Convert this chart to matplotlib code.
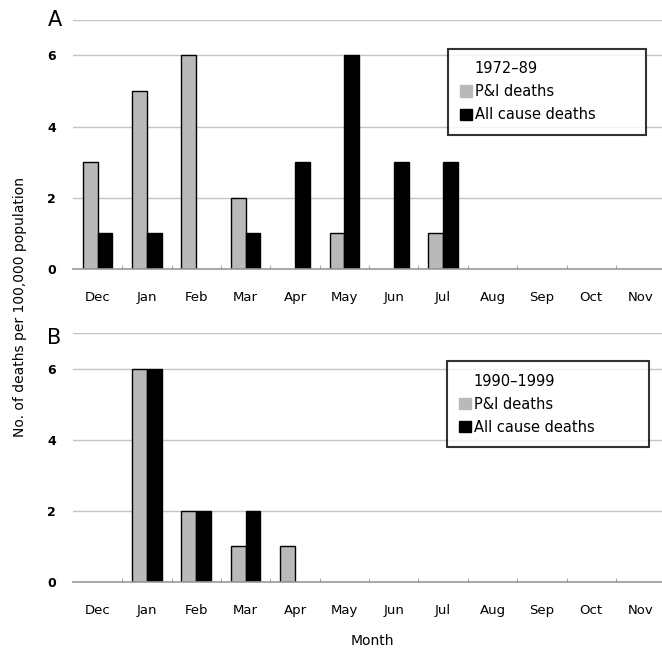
import numpy as np
import matplotlib
matplotlib.use("Agg")
import matplotlib.pyplot as plt
from matplotlib.patches import Patch

# months and values
months = ['Dec', 'Jan', 'Feb', 'Mar', 'Apr', 'May', 'Jun', 'Jul', 'Aug', 'Sep', 'Oct', 'Nov']
pi_a = [3, 5, 6, 2, 0, 1, 0, 1, 0, 0, 0, 0]
all_a = [1, 1, 0, 1, 3, 6, 3, 3, 0, 0, 0, 0]
pi_b = [0, 6, 2, 1, 1, 0, 0, 0, 0, 0, 0, 0]
all_b = [0, 6, 2, 2, 0, 0, 0, 0, 0, 0, 0, 0]
periods = ['1972\u201389', '1990\u20131999']
panel_letters = ['A', 'B']

grey = '#b9b9b9'
w = 0.3

fig = plt.figure(figsize=(6.62, 6.56), dpi=100)
ax_a = fig.add_axes([0.110, 0.590, 0.895, 0.380])
ax_b = fig.add_axes([0.110, 0.113, 0.895, 0.379])

# legend boxes (axes fraction): x0, top, width
leg_pos = [(0.633, 0.8835, 0.334), (0.631, 0.887, 0.341)]
letter_y = [1.0, 0.98]

x = np.arange(len(months))
for i, (ax, pi, al, per, let) in enumerate(zip([ax_a, ax_b], [pi_a, pi_b], [all_a, all_b], periods, panel_letters)):
    pi = np.array(pi)
    al = np.array(al)
    m1 = pi > 0
    m2 = al > 0
    ax.bar(x[m1] - w / 2, pi[m1], w, color=grey, edgecolor='black', linewidth=1, zorder=3)
    ax.bar(x[m2] + w / 2, al[m2], w, color='black', edgecolor='black', linewidth=1, zorder=3)
    ax.set_xlim(-0.5, 11.5)
    ax.set_ylim(0, 7)
    ax.set_yticks([0, 2, 4, 6])
    ax.set_yticklabels(['0', '2', '4', '6'], fontsize=9, fontweight='bold')
    for yv in [2, 4, 6, 7]:
        ax.axhline(yv, color='#c4c4c4', linewidth=1, zorder=1)
    ax.set_xticks(x)
    ax.set_xticklabels(months, fontsize=9.5)
    ax.set_xticks(np.arange(0.5, 11, 1), minor=True)
    ax.tick_params(axis='x', which='major', length=0, pad=16)
    ax.tick_params(axis='x', which='minor', length=3, direction='in', color='#999999')
    ax.tick_params(axis='y', length=0, pad=12)
    for s in ['left', 'right', 'top']:
        ax.spines[s].set_visible(False)
    ax.spines['bottom'].set_color('#999999')
    ax.spines['bottom'].set_linewidth(1.2)
    ax.spines['bottom'].set_zorder(4)
    ax.text(-0.043, letter_y[i], let, transform=ax.transAxes, fontsize=15, ha='left', va='center')

    handles = [Patch(facecolor='none', edgecolor='none'),
               Patch(facecolor=grey, edgecolor=grey),
               Patch(facecolor='black', edgecolor='black')]
    labels = [per, 'P&I deaths', 'All cause deaths']
    lx, ltop, lw = leg_pos[i]
    leg = ax.legend(handles, labels, loc='upper left', bbox_to_anchor=(lx, ltop - 0.3, lw, 0.3),
                    mode='expand', fontsize=10.5, frameon=True, fancybox=False,
                    handlelength=0.8, handleheight=0.8, handletextpad=0.2,
                    labelspacing=0.55, borderpad=0.85, borderaxespad=0)
    leg.get_frame().set_edgecolor('black')
    leg.get_frame().set_linewidth(1.5)
    leg.set_zorder(5)

fig.text(0.030, 0.532, 'No. of deaths per 100,000 population', rotation=90,
         ha='center', va='center', fontsize=10)
fig.text(0.562, 0.012, 'Month', ha='center', va='bottom', fontsize=10)

fig.savefig('out.png', dpi=100)
